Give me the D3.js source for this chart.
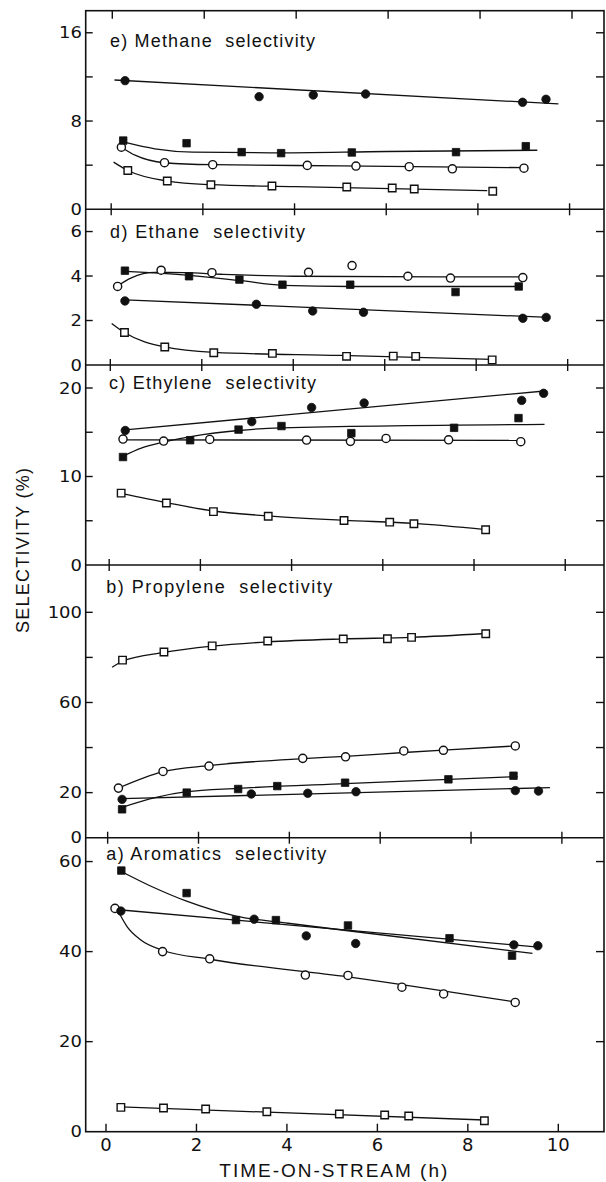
<!DOCTYPE html>
<html>
<head>
<meta charset="utf-8">
<script src="https://cdn.jsdelivr.net/npm/d3@7"></script>
<style>
  html, body { margin: 0; padding: 0; background: #fff; }
  svg { display: block; }
  .num { font-family: "DejaVu Sans", sans-serif; fill: #111; }
  .lbl { font-family: "Liberation Sans", Arial, sans-serif; fill: #111; white-space: pre; }
</style>
</head>
<body>
<div id="chart"></div>
<script>
// time axis (h)
var timeTicks = [0, 2, 4, 6, 8, 10];

// FC = filled circle, FS = filled square, OC = open circle, OS = open square
// each point is [time-on-stream (h), selectivity (%)]; *Fit are the drawn trend curves

// e) methane
var methaneFC = [[0.29, 11.66], [3.21, 10.21], [4.39, 10.36], [5.53, 10.45], [8.95, 9.70], [9.46, 9.97]];
var methaneFCFit = [[0.06, 11.72], [9.73, 9.55]];
var methaneFS = [[0.25, 6.23], [1.63, 5.99], [2.83, 5.18], [3.69, 5.09], [5.23, 5.15], [7.50, 5.18], [9.02, 5.72]];
var methaneFSFit = [[0.27, 6.08], [0.94, 5.48], [1.77, 5.18], [3.46, 5.12], [5.99, 5.24], [9.27, 5.35]];
var methaneOC = [[0.21, 5.63], [1.15, 4.22], [2.20, 4.04], [4.26, 3.98], [5.32, 3.92], [6.48, 3.86], [7.42, 3.67], [8.98, 3.73]];
var methaneOCFit = [[0.21, 5.63], [0.52, 4.88], [1.15, 4.22], [2.2, 4.04], [5.0, 3.94], [9.06, 3.77]];
var methaneOS = [[0.35, 3.52], [1.21, 2.56], [2.16, 2.23], [3.49, 2.11], [5.12, 2.02], [6.11, 1.93], [6.59, 1.84], [8.30, 1.63]];
var methaneOSFit = [[0.04, 4.28], [0.35, 3.52], [1.21, 2.56], [2.16, 2.23], [4.0, 2.05], [8.18, 1.69]];

// d) ethane
var ethaneFC = [[0.31, 2.88], [3.18, 2.73], [4.41, 2.43], [5.52, 2.37], [9.00, 2.10], [9.51, 2.14]];
var ethaneFCFit = [[0.31, 2.93], [9.57, 2.14]];
var ethaneFS = [[0.31, 4.24], [1.71, 3.99], [2.81, 3.84], [3.75, 3.61], [5.23, 3.61], [7.53, 3.28], [8.91, 3.53]];
var ethaneFSFit = [[0.31, 4.21], [1.71, 4.03], [2.81, 3.80], [3.75, 3.58], [5.23, 3.53], [8.98, 3.53]];
var ethaneOC = [[0.15, 3.53], [1.10, 4.26], [2.21, 4.15], [4.32, 4.17], [5.27, 4.47], [6.49, 3.99], [7.42, 3.91], [9.00, 3.93]];
var ethaneOCFit = [[0.13, 3.53], [0.45, 3.92], [0.97, 4.16], [1.6, 4.15], [2.4, 4.08], [4.0, 3.99], [9.0, 3.96]];
var ethaneOS = [[0.30, 1.46], [1.18, 0.81], [2.25, 0.55], [3.53, 0.52], [5.15, 0.39], [6.17, 0.40], [6.66, 0.39], [8.33, 0.23]];
var ethaneOSFit = [[0.02, 1.87], [0.30, 1.46], [1.18, 0.81], [2.25, 0.57], [5.0, 0.43], [8.33, 0.25]];

// c) ethylene
var ethyleneFC = [[0.34, 15.2], [3.11, 16.2], [4.42, 17.8], [5.57, 18.3], [9.02, 18.6], [9.50, 19.4]];
var ethyleneFCFit = [[0.34, 15.27], [9.52, 19.66]];
var ethyleneFS = [[0.29, 12.2], [1.76, 14.1], [2.82, 15.3], [3.76, 15.7], [5.29, 14.9], [7.54, 15.5], [8.95, 16.6]];
var ethyleneFSFit = [[0.29, 12.29], [0.69, 13.2], [1.19, 13.9], [1.87, 14.6], [2.82, 15.2], [3.76, 15.5], [9.52, 15.9]];
var ethyleneOC = [[0.29, 14.23], [1.18, 14.0], [2.19, 14.19], [4.31, 14.12], [5.27, 13.97], [6.05, 14.30], [7.42, 14.15], [9.00, 13.93]];
var ethyleneOCFit = [[0.29, 14.15], [9.02, 14.08]];
var ethyleneOS = [[0.25, 8.12], [1.24, 7.0], [2.27, 6.03], [3.47, 5.51], [5.13, 5.03], [6.13, 4.84], [6.66, 4.66], [8.23, 3.99]];
var ethyleneOSFit = [[0.25, 8.1], [1.24, 7.05], [2.27, 6.1], [3.47, 5.55], [5.13, 5.05], [6.66, 4.7], [8.23, 4.0]];

// b) propylene
var propyleneFC = [[0.30, 17.0], [3.14, 19.4], [4.38, 19.7], [5.44, 20.4], [8.94, 20.9], [9.45, 20.7]];
var propyleneFCFit = [[0.30, 17.3], [9.70, 22.2]];
var propyleneFS = [[0.30, 12.6], [1.72, 20.0], [2.85, 21.6], [3.71, 22.9], [5.20, 24.4], [7.47, 25.9], [8.90, 27.5]];
var propyleneFSFit = [[0.30, 13.5], [1.05, 17.9], [1.72, 20.4], [2.85, 21.9], [5.2, 24.0], [8.99, 27.1]];
var propyleneOC = [[0.22, 22.0], [1.20, 29.4], [2.21, 31.8], [4.27, 35.2], [5.21, 35.9], [6.49, 38.5], [7.36, 38.8], [8.94, 40.7]];
var propyleneOCFit = [[0.22, 22.0], [1.2, 29.3], [2.21, 32.0], [4.27, 35.1], [5.21, 36.1], [6.49, 37.8], [7.36, 38.9], [8.94, 40.7]];
var propyleneOS = [[0.31, 78.8], [1.22, 82.4], [2.28, 85.1], [3.50, 87.3], [5.16, 88.2], [6.13, 88.3], [6.66, 88.9], [8.29, 90.5]];
var propyleneOSFit = [[0.08, 75.6], [0.31, 78.3], [1.22, 82.2], [2.28, 85.0], [3.5, 86.9], [5.16, 88.2], [6.66, 88.9], [8.29, 90.6]];

// a) aromatics
var aromaticsFC = [[0.31, 49.0], [3.25, 47.2], [4.40, 43.5], [5.49, 41.8], [8.98, 41.5], [9.51, 41.3]];
var aromaticsFCFit = [[0.26, 49.3], [9.52, 41.0]];
var aromaticsFS = [[0.32, 58.0], [1.76, 53.0], [2.85, 47.0], [3.73, 47.0], [5.32, 45.8], [7.56, 42.96], [8.94, 39.1]];
var aromaticsFSFit = [[0.32, 57.8], [1.0, 54.4], [1.76, 51.2], [2.85, 47.9], [4.0, 46.3], [6.0, 43.8], [9.39, 39.6]];
var aromaticsOC = [[0.18, 49.6], [1.23, 40.0], [2.27, 38.4], [4.38, 34.8], [5.32, 34.7], [6.51, 32.1], [7.43, 30.6], [9.01, 28.7]];
var aromaticsOCFit = [[0.26, 48.8], [0.45, 45.5], [0.75, 42.6], [1.23, 40.3], [2.27, 38.3], [5.32, 34.4], [9.01, 28.8]];
var aromaticsOS = [[0.31, 5.41], [1.25, 5.26], [2.18, 5.04], [3.53, 4.44], [5.13, 3.93], [6.13, 3.70], [6.66, 3.48], [8.33, 2.44]];
var aromaticsOSFit = [[0.31, 5.5], [8.33, 2.6]];

// panel titles, y ranges and y ticks, top to bottom
var panelTitles = ["e) Methane  selectivity", "d) Ethane  selectivity", "c) Ethylene  selectivity",
                   "b) Propylene  selectivity", "a) Aromatics  selectivity"];
var panelMax = [18, 7, 22.6, 121, 65.3];
var panelTicks = [[4, 8, 12, 16], [2, 4, 6], [5, 10, 15, 20], [20, 40, 60, 80, 100], [20, 40, 60]];
var panelTickLabels = [[0, 8, 16], [0, 2, 4, 6], [0, 10, 20], [0, 20, 60, 100], [0, 20, 40, 60]];

var panels = [
  {fc: methaneFC, fcFit: methaneFCFit, fs: methaneFS, fsFit: methaneFSFit, oc: methaneOC, ocFit: methaneOCFit, os: methaneOS, osFit: methaneOSFit},
  {fc: ethaneFC, fcFit: ethaneFCFit, fs: ethaneFS, fsFit: ethaneFSFit, oc: ethaneOC, ocFit: ethaneOCFit, os: ethaneOS, osFit: ethaneOSFit},
  {fc: ethyleneFC, fcFit: ethyleneFCFit, fs: ethyleneFS, fsFit: ethyleneFSFit, oc: ethyleneOC, ocFit: ethyleneOCFit, os: ethyleneOS, osFit: ethyleneOSFit},
  {fc: propyleneFC, fcFit: propyleneFCFit, fs: propyleneFS, fsFit: propyleneFSFit, oc: propyleneOC, ocFit: propyleneOCFit, os: propyleneOS, osFit: propyleneOSFit},
  {fc: aromaticsFC, fcFit: aromaticsFCFit, fs: aromaticsFS, fsFit: aromaticsFSFit, oc: aromaticsOC, ocFit: aromaticsOCFit, os: aromaticsOS, osFit: aromaticsOSFit}
];
panels.forEach(function(p, i) {
  p.title = panelTitles[i];
  p.max = panelMax[i];
  p.ticks = panelTicks[i];
  p.labels = panelTickLabels[i];
});

// ---- layout ----
var width = 606, height = 1182;
var frameLeft = 85.7, frameRight = 604;
var lines = [10.7, 209.3, 365, 565, 837.7, 1131.7];   // frame top, panel separators, frame bottom
var titlePos = [
  {x: 110, y: 46.5, len: 205},
  {x: 110, y: 238.3, len: 195},
  {x: 109, y: 389.3, len: 207},
  {x: 106.3, y: 593.3, len: 226},
  {x: 106.3, y: 860, len: 220}
];
var ink = "#111";

// the time ticks drift a little from top to bottom of the figure
function xScaleAt(yPix) {
  var f = (yPix - lines[0]) / (lines[5] - lines[0]);
  return d3.scaleLinear().domain([0, 10]).range([112.3 - 6.3 * f, 572 - 13.7 * f]);
}

var svg = d3.select("#chart").append("svg")
  .attr("width", width)
  .attr("height", height);

// frame and separators
svg.append("rect")
  .attr("x", frameLeft).attr("y", lines[0])
  .attr("width", frameRight - frameLeft).attr("height", lines[5] - lines[0])
  .attr("fill", "none").attr("stroke", ink).attr("stroke-width", 1.6);

svg.selectAll("line.sep")
  .data(lines.slice(1, 5))
  .enter().append("line")
  .attr("class", "sep")
  .attr("x1", frameLeft).attr("x2", frameRight)
  .attr("y1", d => d).attr("y2", d => d)
  .attr("stroke", ink).attr("stroke-width", 1.6);

// time ticks on every horizontal line
lines.forEach(function(ly, i) {
  var xs = xScaleAt(ly);
  var up = (i === 0) ? 0 : (i === 5 ? 8 : 6);
  var down = (i === 0) ? 8 : (i === 5 ? 0 : 6);
  svg.selectAll(null)
    .data(timeTicks)
    .enter().append("line")
    .attr("x1", d => xs(d)).attr("x2", d => xs(d))
    .attr("y1", ly - up).attr("y2", ly + down)
    .attr("stroke", ink).attr("stroke-width", 1.4);
});

// time labels
var xBottom = xScaleAt(lines[5]);
svg.selectAll("text.xt")
  .data(timeTicks)
  .enter().append("text")
  .attr("class", "num xt")
  .attr("x", d => xBottom(d))
  .attr("y", 1150.5)
  .attr("text-anchor", "middle")
  .style("font-size", "18px")
  .text(d => d);

var line = d3.line().curve(d3.curveMonotoneX);

panels.forEach(function(p, i) {
  var top = lines[i], bottom = lines[i + 1];
  var y = d3.scaleLinear().domain([0, p.max]).range([bottom, top]);
  var x = xScaleAt((top + bottom) / 2);
  var g = svg.append("g").attr("class", "panel");

  // y ticks, inward on both sides
  g.selectAll(null)
    .data(p.ticks)
    .enter().append("line")
    .attr("x1", frameLeft).attr("x2", frameLeft + 7)
    .attr("y1", d => y(d)).attr("y2", d => y(d))
    .attr("stroke", ink).attr("stroke-width", 1.4);
  g.selectAll(null)
    .data(p.ticks)
    .enter().append("line")
    .attr("x1", frameRight - 8).attr("x2", frameRight)
    .attr("y1", d => y(d)).attr("y2", d => y(d))
    .attr("stroke", ink).attr("stroke-width", 1.4);

  g.selectAll(null)
    .data(p.labels)
    .enter().append("text")
    .attr("class", "num")
    .attr("transform", d => "translate(82," + (y(d) + 5.5) + ") scale(1.2,1)")
    .attr("text-anchor", "end")
    .style("font-size", "15px")
    .text(d => d);

  // trend curves
  ["fcFit", "fsFit", "ocFit", "osFit"].forEach(function(k) {
    g.append("path")
      .datum(p[k].map(d => [x(d[0]), y(d[1])]))
      .attr("d", line)
      .attr("fill", "none")
      .attr("stroke", ink)
      .attr("stroke-width", 1.3);
  });

  // markers
  var marks = [
    {pts: p.os, type: d3.symbolSquare, size: 56, filled: false},
    {pts: p.oc, type: d3.symbolCircle, size: 52, filled: false},
    {pts: p.fs, type: d3.symbolSquare, size: 56, filled: true},
    {pts: p.fc, type: d3.symbolCircle, size: 56, filled: true}
  ];
  marks.forEach(function(m) {
    g.selectAll(null)
      .data(m.pts)
      .enter().append("path")
      .attr("d", d3.symbol().type(m.type).size(m.size))
      .attr("transform", d => "translate(" + x(d[0]) + "," + y(d[1]) + ")")
      .attr("fill", m.filled ? ink : "#fff")
      .attr("stroke", ink)
      .attr("stroke-width", m.filled ? 0.8 : 1.4);
  });

  // panel title
  var tp = titlePos[i];
  g.append("text")
    .attr("class", "lbl")
    .attr("x", tp.x).attr("y", tp.y)
    .attr("textLength", tp.len)
    .attr("lengthAdjust", "spacing")
    .style("font-size", "18px")
    .text(p.title);
});

// axis titles
svg.append("text")
  .attr("class", "lbl")
  .attr("x", 219.3).attr("y", 1176.5)
  .attr("textLength", 228)
  .attr("lengthAdjust", "spacing")
  .style("font-size", "19px")
  .text("TIME-ON-STREAM (h)");

svg.append("text")
  .attr("class", "lbl")
  .attr("transform", "translate(28.5,633) rotate(-90)")
  .attr("textLength", 165)
  .attr("lengthAdjust", "spacing")
  .style("font-size", "18px")
  .text("SELECTIVITY (%)");
</script>
</body>
</html>
